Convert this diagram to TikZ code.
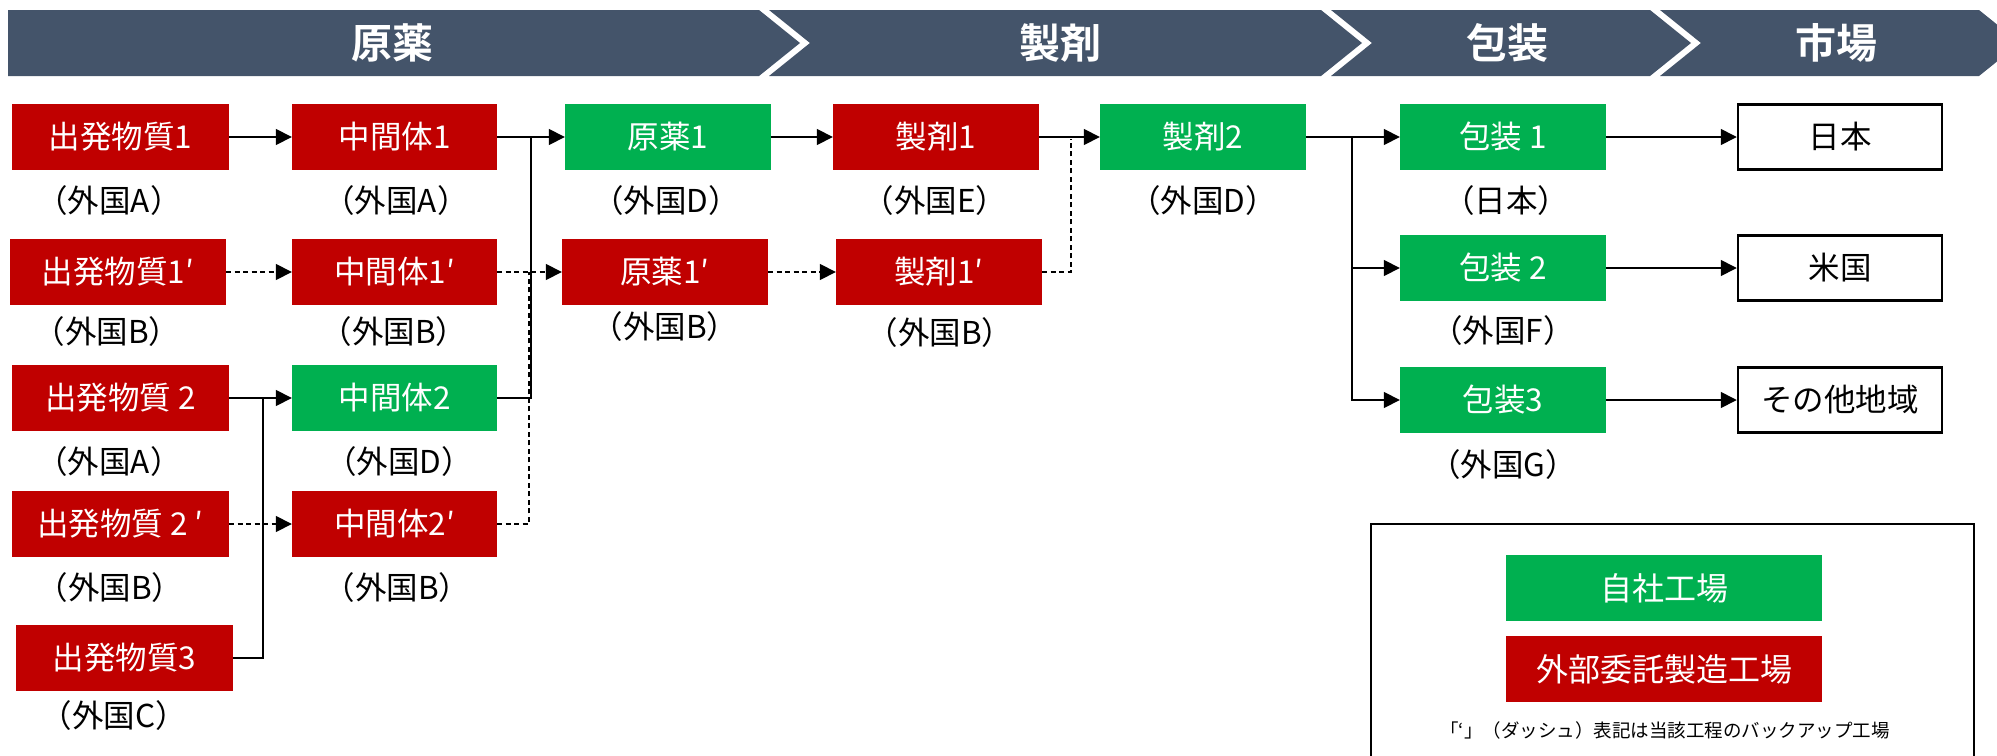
\documentclass[tikz,border=0pt]{standalone}
\usepackage{fontspec}
\setmainfont{Noto Sans CJK JP}[BoldFont={Noto Sans CJK JP Bold}]
\usetikzlibrary{arrows.meta}
\definecolor{fred}{HTML}{C00000}
\definecolor{fgreen}{HTML}{00B050}
\definecolor{fband}{HTML}{44546A}
\begin{document}
\begin{tikzpicture}[x=1pt,y=-1pt,
  box/.style={minimum width=206pt, minimum height=66pt, inner sep=0pt, text=white, font=\fontsize{31.5}{36}\selectfont},
  ext/.style={box, fill=fred},
  own/.style={box, fill=fgreen},
  mkt/.style={minimum width=204pt, minimum height=65pt, inner sep=0pt, draw=black, line width=2.5pt, font=\fontsize{31.5}{36}\selectfont},
  lbl/.style={inner sep=0pt, font=\fontsize{31.5}{36}\selectfont},
  band/.style={inner sep=0pt, text=white, font=\fontsize{41}{48}\selectfont\bfseries},
  ln/.style={line width=1.6pt},
  arr/.style={line width=1.6pt, -{Triangle[length=16pt,width=16pt]}},
  dsh/.style={dash pattern=on 5pt off 3.5pt}
]
\useasboundingbox (0,0) rectangle (1997,755);
% banner
\fill[fband] (8,10) -- (759,10) -- (800,43) -- (759,76) -- (8,76) -- cycle;
\fill[fband] (769,10) -- (1321,10) -- (1362,43) -- (1321,76) -- (769,76) -- (810,43) -- cycle;
\fill[fband] (1331,10) -- (1650,10) -- (1691,43) -- (1650,76) -- (1331,76) -- (1372,43) -- cycle;
\fill[fband] (1660,10) -- (1979,10) -- (2020,43) -- (1979,76) -- (1660,76) -- (1701,43) -- cycle;
\node[band] (h1) at (392,43) {原薬};
\node[band] (h2) at (1060,43) {製剤};
\node[band] (h3) at (1507,43) {包装};
\node[band] (h4) at (1836,43) {市場};
% column 1
\node[ext, minimum width=217pt] (s1) at (120.5,137) {出発物質1};
\node[ext, minimum width=216pt] (s1p) at (118,272) {出発物質1′};
\node[ext, minimum width=217pt] (s2) at (120.5,398) {出発物質 2};
\node[ext, minimum width=217pt] (s2p) at (120.5,524) {出発物質 2 ′};
\node[ext, minimum width=217pt] (s3) at (124.5,658) {出発物質3};
\node[lbl] (ls1) at (109,201) {（外国A）};
\node[lbl] (ls1p) at (107,332) {（外国B）};
\node[lbl] (ls2) at (109,462) {（外国A）};
\node[lbl] (ls2p) at (110,588) {（外国B）};
\node[lbl] (ls3) at (114,716) {（外国C）};
% column 2
\node[ext, minimum width=205pt] (i1) at (394.5,137) {中間体1};
\node[ext, minimum width=205pt] (i1p) at (394.5,272) {中間体1′};
\node[own, minimum width=205pt] (i2) at (394.5,398) {中間体2};
\node[ext, minimum width=205pt] (i2p) at (394.5,524) {中間体2′};
\node[lbl] (li1) at (396,201) {（外国A）};
\node[lbl] (li1p) at (394,332) {（外国B）};
\node[lbl] (li2) at (399,462) {（外国D）};
\node[lbl] (li2p) at (397,588) {（外国B）};
% column 3
\node[own] (g1) at (668,137) {原薬1};
\node[ext] (g1p) at (665,272) {原薬1′};
\node[lbl] (lg1) at (666,201) {（外国D）};
\node[lbl] (lg1p) at (665,327) {（外国B）};
% column 4
\node[ext] (f1) at (936,137) {製剤1};
\node[ext] (f1p) at (939,272) {製剤1′};
\node[lbl] (lf1) at (935,201) {（外国E）};
\node[lbl] (lf1p) at (940,333) {（外国B）};
% column 5
\node[own] (f2) at (1203,137) {製剤2};
\node[lbl] (lf2) at (1203,201) {（外国D）};
% packaging
\node[own] (p1) at (1503,137) {包装 1};
\node[own] (p2) at (1503,268) {包装 2};
\node[own] (p3) at (1503,400) {包装3};
\node[lbl] (lp1) at (1506,201) {（日本）};
\node[lbl] (lp2) at (1503,331) {（外国F）};
\node[lbl] (lp3) at (1503,465) {（外国G）};
% markets
\node[mkt] (m1) at (1840,137) {日本};
\node[mkt] (m2) at (1840,268) {米国};
\node[mkt] (m3) at (1840,400) {その他地域};
% connectors
\draw[arr] (s1) -- (i1);
\draw[arr,dsh] (s1p) -- (i1p);
\draw[arr] (s2) -- (i2);
\coordinate (j1) at (263,398);
\draw[ln] (s3.east) -| (j1);
\draw[arr,dsh] (s2p) -- (i2p);
\draw[arr] (i1) -- (g1);
\coordinate (j2) at (531,137);
\draw[ln] (i2.east) -| (j2);
\draw[arr,dsh] (i1p) -- (g1p);
\coordinate (j3) at (529,272);
\draw[ln,dsh] (i2p.east) -| (j3);
\draw[arr] (g1) -- (f1);
\draw[arr,dsh] (g1p) -- (f1p);
\draw[arr] (f1) -- (f2);
\coordinate (j4) at (1071,139);
\draw[ln,dsh] (f1p.east) -| (j4);
\draw[arr] (f2) -- (p1);
\coordinate (j5) at (1352,137);
\coordinate (j6) at (1352,268);
\draw[arr] (j5) |- (p3.west);
\draw[arr] (j6) -- (p2);
\draw[arr] (p1) -- (m1);
\draw[arr] (p2) -- (m2);
\draw[arr] (p3) -- (m3);
% legend
\draw[line width=2.5pt] (1371,800) -- (1371,524) -- (1974,524) -- (1974,800);
\node[own, minimum width=316pt, font=\fontsize{32}{38}\selectfont] (k1) at (1664,588) {自社工場};
\node[ext, minimum width=316pt, font=\fontsize{32}{38}\selectfont] (k2) at (1664,669) {外部委託製造工場};
\node[inner sep=0pt, font=\fontsize{18.5}{22}\selectfont] (k3) at (1665,730) {「‘」（ダッシュ）表記は当該工程のバックアップ工場};
\end{tikzpicture}
\end{document}
